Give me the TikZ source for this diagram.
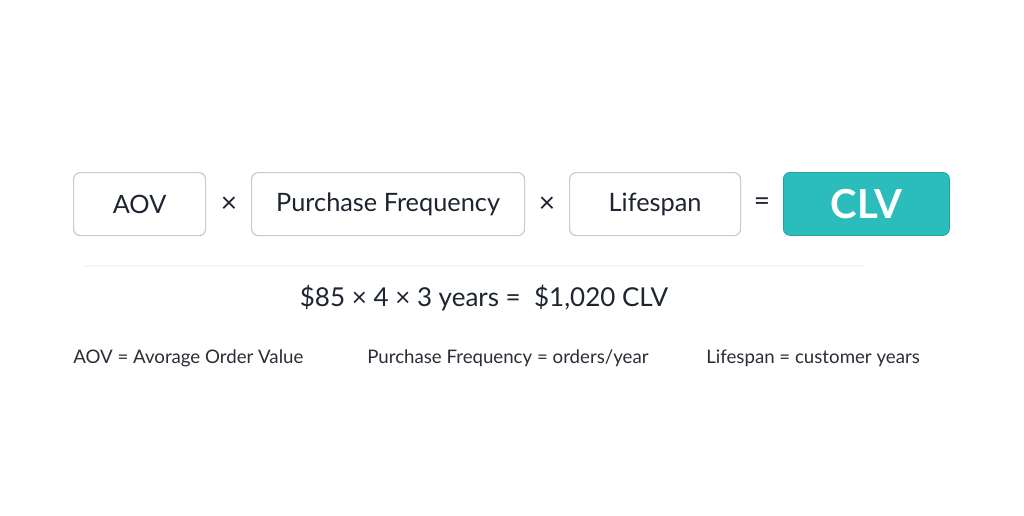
\documentclass[tikz,border=0pt]{standalone}
\usepackage{fontspec}
\setmainfont{Lato}
\definecolor{ink}{HTML}{1E2430}
\definecolor{boxline}{HTML}{C9CBCE}
\definecolor{teal}{HTML}{2BBDBB}
\definecolor{legend}{HTML}{2A2E35}
\tikzset{
  termbox/.style={draw=boxline, line width=0.9pt, rounded corners=5pt, fill=white, text=ink, font=\fontsize{19}{23}\selectfont, anchor=north west, inner sep=0pt},
  resultbox/.style={draw=teal!85!black, line width=0.6pt, rounded corners=5pt, fill=teal, text=white, font=\fontsize{30}{34}\selectfont\bfseries, anchor=north west, inner sep=0pt},
  opsign/.style={text=ink, font=\fontsize{21}{24}\selectfont},
  legendtext/.style={text=legend, font=\fontsize{14}{17}\selectfont, anchor=west, inner sep=0pt}
}
\begin{document}
\begin{tikzpicture}[x=0.75pt,y=-0.75pt]
\useasboundingbox[fill=white] (0,0) rectangle (1024,515);
\node[termbox, minimum width=132*0.75pt, minimum height=63*0.75pt] (aov) at (73,172) {AOV};
\node[opsign] (m1) at (229,205) {×};
\node[termbox, minimum width=273*0.75pt, minimum height=63*0.75pt] (pf) at (251,172) {Purchase Frequency};
\node[opsign] (m2) at (547,205) {×};
\node[termbox, minimum width=171*0.75pt, minimum height=63*0.75pt] (ls) at (569,172) {Lifespan};
\node[opsign] (eq) at (762,204) {=};
\node[resultbox, minimum width=166*0.75pt, minimum height=63*0.75pt] (clv) at (783,172) {CLV};
\coordinate (sepL) at (85,266);
\coordinate (sepR) at (865,266);
\draw[black!4, line width=1pt] (sepL) -- (sepR);
\node[text=ink, font=\fontsize{19.5}{23}\selectfont] (calc) at (484,298) {\$85 × 4 × 3 years = \ \$1,020 CLV};
\node[legendtext] (l1) at (73,358) {AOV = Avorage Order Value};
\node[legendtext] (l2) at (367,358) {Purchase Frequency = orders/year};
\node[legendtext] (l3) at (706,358) {Lifespan = customer years};
\end{tikzpicture}
\end{document}
